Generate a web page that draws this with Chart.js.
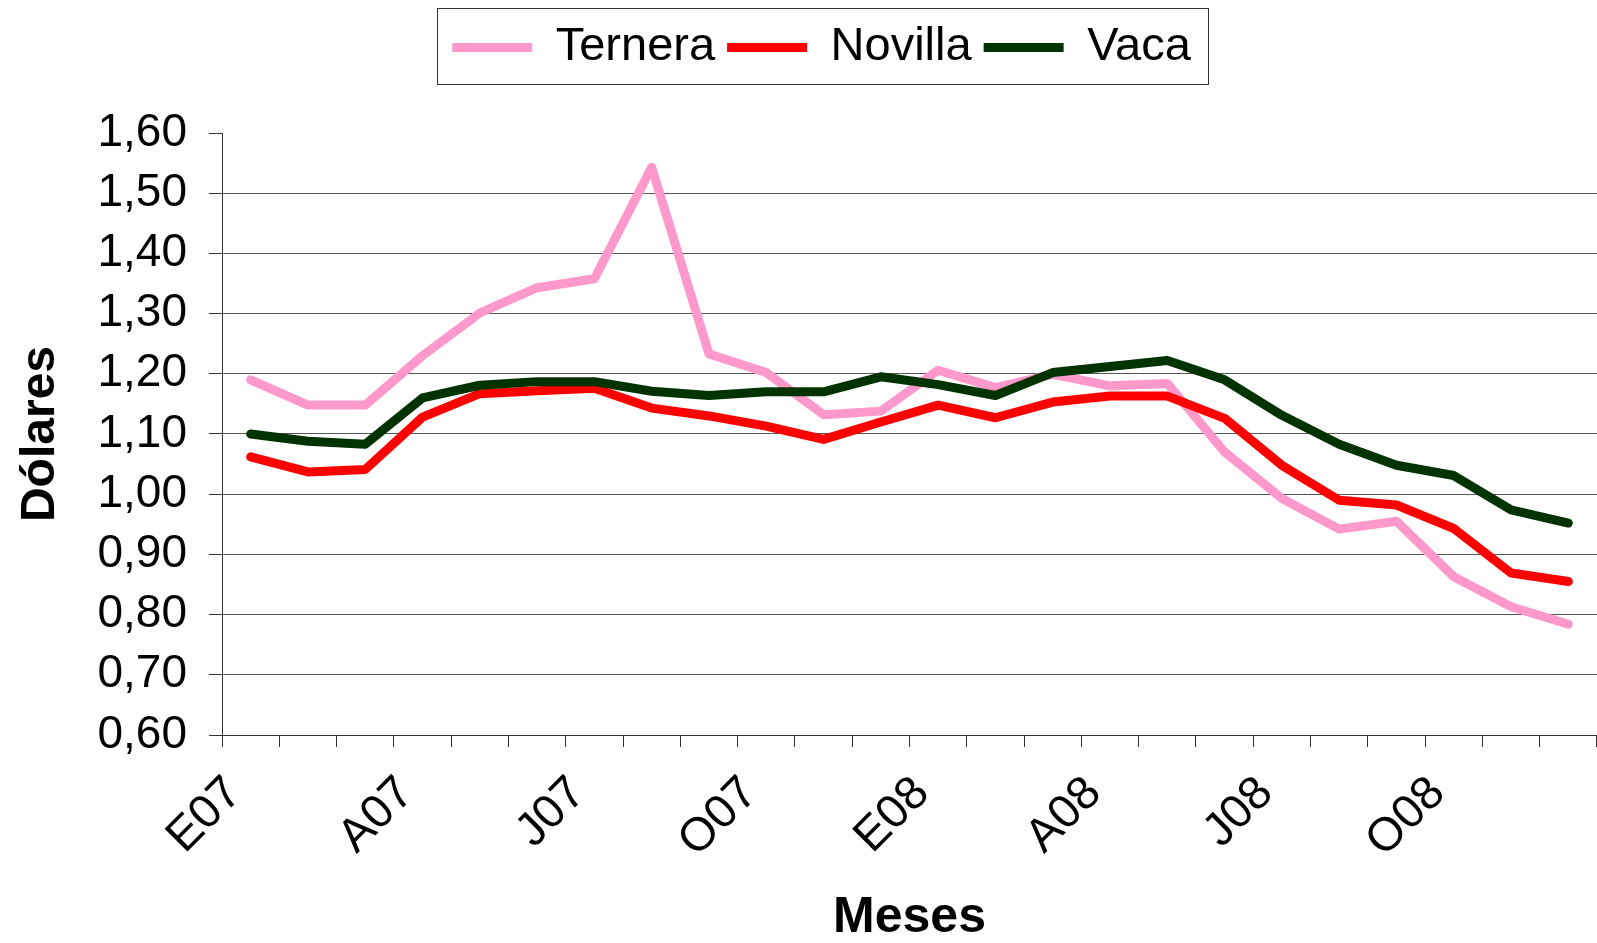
<!DOCTYPE html>
<html lang="es">
<head>
<meta charset="utf-8">
<title>Precios Ternera, Novilla y Vaca</title>
<script src="https://cdn.jsdelivr.net/npm/chart.js@4.4.0/dist/chart.umd.min.js"></script>
<style>
    html, body { margin: 0; padding: 0; background: #ffffff; }
    #contenedor { width: 1597px; height: 943px; }
</style>
</head>
<body>
<div id="contenedor"><canvas id="preciosChart" width="1597" height="943"></canvas></div>
<script>
// meses (E = enero, F = febrero, ...)
const meses = ['E07', 'F07', 'M07', 'A07', 'M07', 'J07', 'J07', 'A07', 'S07', 'O07', 'N07', 'D07',
               'E08', 'F08', 'M08', 'A08', 'M08', 'J08', 'J08', 'A08', 'S08', 'O08', 'N08', 'D08'];

// precios en dólares
const ternera = [1.19, 1.148, 1.148, 1.23, 1.301, 1.343, 1.358, 1.543, 1.233, 1.202, 1.132, 1.138,
                 1.206, 1.177, 1.199, 1.18, 1.184, 1.07, 0.993, 0.942, 0.955, 0.863, 0.813, 0.784];
const novilla = [1.062, 1.037, 1.041, 1.128, 1.167, 1.172, 1.176, 1.143, 1.13, 1.113, 1.091, 1.12,
                 1.148, 1.127, 1.153, 1.163, 1.163, 1.126, 1.048, 0.99, 0.982, 0.943, 0.869, 0.855];
const vaca = [1.10, 1.088, 1.083, 1.16, 1.181, 1.187, 1.187, 1.171, 1.164, 1.17, 1.17, 1.195,
              1.182, 1.164, 1.202, 1.212, 1.222, 1.19, 1.131, 1.083, 1.048, 1.031, 0.974, 0.952];

// rango del eje y
const yMin = 0.6;
const yMax = 1.6;
const yPaso = 0.1;

const fuente = "'Liberation Sans', Arial, sans-serif";

// plugin: espacio bajo la leyenda y marco alrededor
const marcoLeyenda = {
    id: 'marcoLeyenda',
    beforeLayout(chart) {
        const leyenda = chart.legend;
        if (leyenda && !leyenda._ajustada) {
            const fitOriginal = leyenda.fit;
            leyenda.fit = function () {
                fitOriginal.call(this);
                this.height += 52;
            };
            leyenda._ajustada = true;
        }
    },
    afterDraw(chart) {
        const cajas = chart.legend.legendHitBoxes;
        if (!cajas || !cajas.length) return;
        const ultima = cajas[cajas.length - 1];
        const izq = cajas[0].left - 15;
        const der = ultima.left + ultima.width + 17;
        const arriba = cajas[0].top - 16;
        const abajo = cajas[0].top + cajas[0].height + 13;
        const ctx = chart.ctx;
        ctx.save();
        ctx.strokeStyle = '#333333';
        ctx.lineWidth = 1;
        ctx.strokeRect(Math.round(izq) + 0.5, Math.round(arriba) + 0.5, Math.round(der - izq), Math.round(abajo - arriba));
        ctx.restore();
    }
};

function serie(nombre, datos, color, orden) {
    return {
        label: nombre,
        data: datos,
        borderColor: color,
        backgroundColor: color,
        borderWidth: 9,
        borderCapStyle: 'round',
        borderJoinStyle: 'round',
        pointRadius: 0,
        tension: 0,
        order: orden
    };
}

new Chart(document.getElementById('preciosChart'), {
    type: 'line',
    data: {
        labels: meses,
        datasets: [
            serie('Ternera', ternera, '#FF99CC', 2),
            serie('Novilla', novilla, '#FF0000', 1),
            serie('Vaca', vaca, '#003300', 0)
        ]
    },
    options: {
        responsive: false,
        animation: false,
        // el área del gráfico sigue un poco más allá del borde derecho
        layout: { padding: { top: 12, left: 38, right: -8, bottom: 0 } },
        plugins: {
            legend: {
                position: 'top',
                labels: {
                    color: '#000000',
                    font: { family: fuente, size: 47 },
                    usePointStyle: true,
                    pointStyle: 'line',
                    pointStyleWidth: 80,
                    padding: 12,
                    sort: (a, b) => a.datasetIndex - b.datasetIndex
                }
            },
            tooltip: { enabled: false }
        },
        scales: {
            x: {
                offset: true,
                afterFit(scale) {
                    scale.height = 208;
                    // sin relleno lateral por las etiquetas giradas
                    scale.paddingLeft = 0;
                    scale.paddingRight = 0;
                },
                border: { display: true, color: '#333333', width: 1 },
                grid: {
                    offset: true,
                    drawOnChartArea: false,
                    drawTicks: true,
                    tickLength: 12,
                    color: '#333333'
                },
                ticks: {
                    autoSkip: false,
                    minRotation: 45,
                    maxRotation: 45,
                    padding: 19,
                    labelOffset: -16,
                    color: '#000000',
                    font: { family: fuente, size: 47 },
                    callback: function (valor, i) {
                        return i % 3 === 0 ? this.getLabelForValue(valor) : '';
                    }
                },
                title: {
                    display: true,
                    text: 'Meses',
                    color: '#000000',
                    font: { family: fuente, size: 50, weight: 'bold', lineHeight: 1 },
                    padding: { top: 0, bottom: 0 }
                }
            },
            y: {
                min: yMin,
                max: yMax,
                afterFit(scale) { scale.width = 184; },
                border: { display: true, color: '#333333', width: 1 },
                grid: {
                    color: (c) => (c.tick && Math.abs(c.tick.value - yMax) < 1e-6) ? 'rgba(0,0,0,0)' : '#555555',
                    tickColor: '#333333',
                    tickLength: 13,
                    lineWidth: 1
                },
                ticks: {
                    stepSize: yPaso,
                    padding: 22,
                    color: '#000000',
                    font: { family: fuente, size: 46 },
                    callback: (valor) => valor.toFixed(2).replace('.', ',')
                },
                title: {
                    display: true,
                    text: 'Dólares',
                    color: '#000000',
                    font: { family: fuente, size: 48, weight: 'bold', lineHeight: 1 },
                    padding: { top: -21, bottom: 0 }
                }
            }
        }
    },
    plugins: [marcoLeyenda]
});
</script>
</body>
</html>
